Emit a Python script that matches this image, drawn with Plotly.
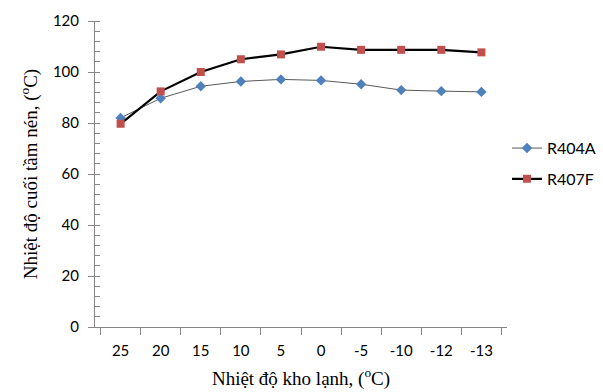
import plotly.graph_objects as go

categories = ["25", "20", "15", "10", "5", "0", "-5", "-10", "-12", "-13"]
r404a = [82.0, 89.7, 94.4, 96.3, 97.1, 96.7, 95.2, 92.9, 92.5, 92.2]
r407f = [79.7, 92.4, 100.0, 105.0, 106.9, 109.9, 108.7, 108.7, 108.7, 107.7]

fig = go.Figure()
fig.add_trace(go.Scatter(
    x=categories, y=r404a, name="R404A", mode="lines+markers",
    line=dict(color="#595959", width=1),
    marker=dict(symbol="diamond", size=8, color="#4f81bd"),
    legendgroup="a",
))
fig.add_trace(go.Scatter(
    x=categories, y=r407f, name="R407F", mode="lines+markers",
    line=dict(color="#000000", width=2.2),
    marker=dict(symbol="square", size=8, color="#c0504d"),
    legendgroup="b",
))

fig.update_layout(
    width=603, height=392,
    margin=dict(l=95, r=96, t=21, b=65, autoexpand=False),
    paper_bgcolor="white", plot_bgcolor="white",
    showlegend=True,
    legend=dict(
        x=1.0, xanchor="left", y=0.64, yanchor="top",
        font=dict(family="Lato, Open Sans, sans-serif", size=16, color="#000000"),
        tracegroupgap=7, itemwidth=30, bgcolor="rgba(0,0,0,0)",
    ),
    xaxis=dict(
        type="category", automargin=False,
        showline=True, linecolor="#868686", linewidth=1,
        ticks="outside", tickson="boundaries", ticklen=7, tickcolor="#868686",
        ticklabelstandoff=10,
        showgrid=False, zeroline=False,
        tickfont=dict(family="Lato, Open Sans, sans-serif", size=15, color="#000000"),
        title=dict(text="Nhiệt độ kho lạnh, (<sup>o</sup>C)",
                   font=dict(family="Liberation Serif, Times New Roman, serif", size=19, color="#000000"),
                   standoff=13),
    ),
    yaxis=dict(
        range=[0, 120], dtick=20, automargin=False,
        showline=True, linecolor="#868686", linewidth=1,
        ticks="outside", ticklen=6, tickcolor="#868686",
        ticklabelstandoff=6,
        minor=dict(dtick=4, ticks="inside", ticklen=5, tickcolor="#868686"),
        showgrid=False, zeroline=False,
        tickfont=dict(family="Lato, Open Sans, sans-serif", size=15, color="#000000"),
        title=dict(text="Nhiệt độ cuối tầm nén, (<sup>o</sup>C)",
                   font=dict(family="Liberation Serif, Times New Roman, serif", size=19, color="#000000"),
                   standoff=10),
    ),
)

fig.write_html("out.html")
